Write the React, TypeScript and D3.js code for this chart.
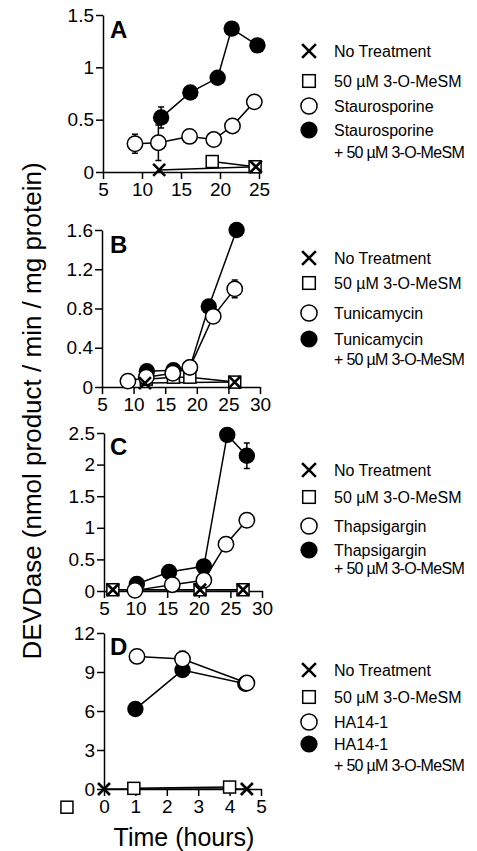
import React, { useRef, useEffect } from 'react';
import * as d3 from 'd3';

// [time, value, error?]
type Pt = [number, number, number?];

// Panel A - staurosporine (hours)
const aNoTreatment: Pt[] = [[12.2, 0.02], [24.6, 0.05]];
const aMeSM: Pt[] = [[19, 0.1], [24.5, 0.05]];
const aDrug: Pt[] = [[9.1, 0.27, 0.09], [12.1, 0.28, 0.17], [16.1, 0.34], [19.2, 0.31], [21.6, 0.44], [24.4, 0.67]];
const aDrugMeSM: Pt[] = [[12.45, 0.52, 0.1], [16.2, 0.76], [19.7, 0.9], [21.5, 1.37], [24.8, 1.21]];

// Panel B - tunicamycin
const bNoTreatment: Pt[] = [[11.8, 0.04], [26, 0.05]];
const bMeSM: Pt[] = [[12, 0.08], [16.3, 0.1], [18.9, 0.1], [26, 0.05]];
const bDrug: Pt[] = [[9.1, 0.06], [12, 0.1], [16.2, 0.14], [18.9, 0.2], [22.6, 0.72], [26, 1.0, 0.09]];
const bDrugMeSM: Pt[] = [[12.1, 0.16], [16.3, 0.17], [18.9, 0.2], [21.9, 0.82], [26.3, 1.6]];

// Panel C - thapsigargin
const cNoTreatment: Pt[] = [[6.4, 0.02], [20.2, 0.02], [27, 0.02]];
const cMeSM: Pt[] = [[6.4, 0.02], [20.2, 0.02], [27, 0.02]];
const cDrug: Pt[] = [[9.9, 0.01], [15.8, 0.1], [20.8, 0.17], [24.3, 0.74], [27.6, 1.12]];
const cDrugMeSM: Pt[] = [[10.2, 0.11], [15.3, 0.3], [20.8, 0.39], [24.5, 2.47], [27.6, 2.14, 0.2]];

// Panel D - HA14-1
const dNoTreatment: Pt[] = [[0, 0], [4.55, 0]];
const dMeSM: Pt[] = [[0.95, 0.05], [4.0, 0.15]];
const dDrug: Pt[] = [[1.05, 10.2, 0.45], [2.5, 10.0, 0.6], [4.55, 8.15]];
const dDrugMeSM: Pt[] = [[1.0, 6.15], [2.5, 9.15], [4.5, 8.1]];
const dStray: Pt[] = [[-1.18, -1.4]];

const panelLetters = ['A', 'B', 'C', 'D'];
const drugNames = ['Staurosporine', 'Tunicamycin', 'Thapsigargin', 'HA14-1'];
const xDomains = [[5, 25], [5, 30], [5, 30], [0, 5]];
const yDomains = [[0, 1.5], [0, 1.6], [0, 2.5], [0, 12]];
const xTicks = [[5, 10, 15, 20, 25], [5, 10, 15, 20, 25, 30], [5, 10, 15, 20, 25, 30], [0, 1, 2, 3, 4, 5]];
const yTicks = [[0, 0.5, 1, 1.5], [0, 0.4, 0.8, 1.2, 1.6], [0, 0.5, 1, 1.5, 2, 2.5], [0, 3, 6, 9, 12]];
const noTreatment = [aNoTreatment, bNoTreatment, cNoTreatment, dNoTreatment];
const meSM = [aMeSM, bMeSM, cMeSM, dMeSM];
const drug = [aDrug, bDrug, cDrug, dDrug];
const drugMeSM = [aDrugMeSM, bDrugMeSM, cDrugMeSM, dDrugMeSM];

const legendNoTreat = 'No Treatment';
const legendMeSM = '50 \u00b5M 3-O-MeSM';
const legendPlus = '+ 50 \u00b5M 3-O-MeSM';
const yTitle = 'DEVDase (nmol product / min / mg protein)';
const xTitle = 'Time (hours)';

// pixel layout of each panel
const layout = [
  { left: 103, right: 259, top: 15, bottom: 172, letterY: 38, rows: [51, 81, 106, 130, 152] },
  { left: 102, right: 260, top: 230, bottom: 387, letterY: 253, rows: [258, 283, 313, 339, 359] },
  { left: 104, right: 262, top: 433, bottom: 591, letterY: 455, rows: [470, 497, 526, 550, 568] },
  { left: 104, right: 261, top: 633, bottom: 789, letterY: 655, rows: [670, 697, 722, 744, 765] },
];

const FONT = '"Liberation Sans", Arial, sans-serif';
const W = 477;
const H = 851;

type Kind = 'x' | 'square' | 'open' | 'filled';

function marker(g: any, kind: Kind, cx: number, cy: number, s = 1) {
  if (kind === 'x') {
    const h = 6 * s;
    g.append('path')
      .attr('d', `M${cx - h},${cy - h}L${cx + h},${cy + h}M${cx - h},${cy + h}L${cx + h},${cy - h}`)
      .attr('stroke', '#000').attr('stroke-width', 2.6).attr('fill', 'none');
  } else if (kind === 'square') {
    const h = 6 * s;
    g.append('rect').attr('x', cx - h).attr('y', cy - h).attr('width', 2 * h).attr('height', 2 * h)
      .attr('fill', '#fff').attr('stroke', '#000').attr('stroke-width', 1.5);
  } else if (kind === 'open') {
    g.append('circle').attr('cx', cx).attr('cy', cy).attr('r', 7.7 * s)
      .attr('fill', '#fff').attr('stroke', '#000').attr('stroke-width', 1.5);
  } else {
    g.append('circle').attr('cx', cx).attr('cy', cy).attr('r', 8.2 * s).attr('fill', '#000');
  }
}

function App() {
  const ref = useRef<SVGSVGElement>(null);

  useEffect(() => {
    const svg = d3.select(ref.current);
    svg.selectAll('*').remove();

    layout.forEach((L, i) => {
      const x = d3.scaleLinear().domain(xDomains[i]).range([L.left, L.right]);
      const y = d3.scaleLinear().domain(yDomains[i]).range([L.bottom, L.top]);
      const g = svg.append('g');

      const xAxis = g.append('g').attr('transform', `translate(0,${L.bottom})`)
        .call(d3.axisBottom(x).tickValues(xTicks[i]).tickSize(7).tickSizeOuter(0).tickPadding(4)
          .tickFormat((d: any) => String(d)));
      const yAxis = g.append('g').attr('transform', `translate(${L.left},0)`)
        .call(d3.axisLeft(y).tickValues(yTicks[i]).tickSize(7).tickSizeOuter(0).tickPadding(2)
          .tickFormat((d: any) => String(d)));
      [xAxis, yAxis].forEach((a) => {
        a.selectAll('path, line').attr('stroke', '#000').attr('stroke-width', 1.5);
        a.selectAll('text').attr('fill', '#000').attr('font-size', 19).attr('font-family', FONT);
      });

      const line = d3.line<Pt>().x((d) => x(d[0])).y((d) => y(d[1]));
      const series: [Pt[], Kind][] = [
        [meSM[i], 'square'],
        [drugMeSM[i], 'filled'],
        [drug[i], 'open'],
        [noTreatment[i], 'x'],
      ];

      series.forEach(([data]) => {
        g.append('path').datum(data).attr('d', line)
          .attr('fill', 'none').attr('stroke', '#000').attr('stroke-width', 1.5);
      });

      series.forEach(([data, kind]) => {
        data.filter((d) => d[2]).forEach((d) => {
          const e = d[2] as number;
          const cx = x(d[0]);
          g.append('path')
            .attr('d', `M${cx},${y(d[1] - e)}V${y(d[1] + e)}M${cx - 3},${y(d[1] - e)}H${cx + 3}M${cx - 3},${y(d[1] + e)}H${cx + 3}`)
            .attr('stroke', '#000').attr('stroke-width', 1.5).attr('fill', 'none');
        });
        data.forEach((d) => marker(g, kind, x(d[0]), y(d[1])));
      });

      if (i === 3) {
        dStray.forEach((d) => marker(g, 'square', x(d[0]), y(d[1])));
      }

      g.append('text').attr('x', 110).attr('y', L.letterY).text(panelLetters[i])
        .attr('font-family', FONT).attr('font-weight', 'bold').attr('font-size', 24);

      // legend
      const lg = g.append('g');
      const mx = 309;
      const tx = 334;
      const kinds: Kind[] = ['x', 'square', 'open', 'filled'];
      const labels = [legendNoTreat, legendMeSM, drugNames[i], drugNames[i]];
      kinds.forEach((k, j) => {
        marker(lg, k, mx, L.rows[j], k === 'x' ? 1.15 : 1.05);
        lg.append('text').attr('x', tx).attr('y', L.rows[j] + 6).text(labels[j])
          .attr('font-family', FONT).attr('font-size', 16);
      });
      lg.append('text').attr('x', tx).attr('y', L.rows[4] + 6).text(legendPlus)
        .attr('font-family', FONT).attr('font-size', 16).attr('letter-spacing', -0.7);
    });

    svg.append('text').attr('transform', 'translate(41,411) rotate(-90)')
      .attr('text-anchor', 'middle').attr('font-family', FONT).attr('font-size', 26).text(yTitle);
    svg.append('text').attr('x', 184).attr('y', 846)
      .attr('text-anchor', 'middle').attr('font-family', FONT).attr('font-size', 25).text(xTitle);
  }, []);

  return (
    <svg ref={ref} width={W} height={H}
      style={{ position: 'absolute', left: 0, top: 0, background: '#fff' }} />
  );
}

export default App;
